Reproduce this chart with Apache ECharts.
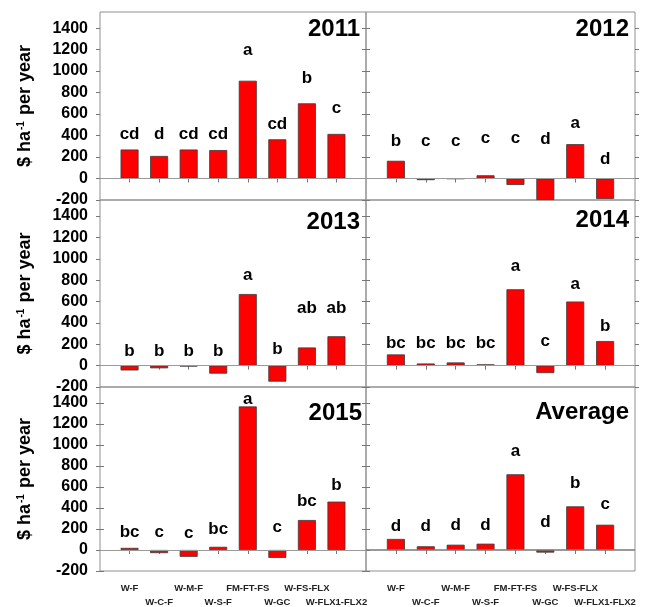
<!DOCTYPE html>
<html>
<head>
<meta charset="utf-8">
<script src="https://cdn.jsdelivr.net/npm/echarts@6/dist/echarts.min.js"></script>
<style>
html,body{margin:0;padding:0;background:#fff;}
#chart{width:656px;height:607px;}
</style>
</head>
<body>
<div id="chart"></div>
<script>
// ---- data ----
var categories = ['W-F','W-C-F','W-M-F','W-S-F','FM-FT-FS','W-GC','W-FS-FLX','W-FLX1-FLX2'];
var panelTitles = ['2011','2012','2013','2014','2015','Average'];
var yTicks = [-200,0,200,400,600,800,1000,1200,1400];

var v2011 = [270,210,270,265,910,365,700,415];
var v2012 = [165,-15,-3,30,-60,-200,320,-190];
var v2013 = [-45,-25,-8,-75,670,-150,170,275];
var v2014 = [105,20,30,12,715,-70,600,230];
var v2015 = [20,-30,-65,30,1365,-75,285,460];
var vAvg  = [105,35,50,60,720,-25,415,240];

var L2011 = ['cd','d','cd','cd','a','cd','b','c'];
var L2012 = ['b','c','c','c','c','d','a','d'];
var L2013 = ['b','b','b','b','a','b','ab','ab'];
var L2014 = ['bc','bc','bc','bc','a','c','a','b'];
var L2015 = ['bc','c','c','bc','a','c','bc','b'];
var LAvg  = ['d','d','d','d','a','d','b','c'];

// heights (data units) at which the letters sit (top of error bars, estimated)
var H2011 = [357,357,360,360,1146,451,883,601];
var H2012 = [297,297,297,322,322,312,460,125];
var H2013 = [84,84,84,84,796,99,487,487];
var H2014 = [161,161,161,161,879,173,709,316];
var H2015 = [117,117,108,140,1379,164,412,558];
var HAvg  = [170,170,186,183,890,207,579,378];

var values = [v2011,v2012,v2013,v2014,v2015,vAvg];
var letters = [L2011,L2012,L2013,L2014,L2015,LAvg];
var heights = [H2011,H2012,H2013,H2014,H2015,HAvg];

// ---- layout ----
var FONT = 'Liberation Sans, Arial, Helvetica, sans-serif';
var colLeft = [100, 366], colWidth = [266, 269];
var rowTop = [12, 200, 387], rowHeight = [188, 187, 187];
var titleRight = [296, 27, 296, 27, 294, 27];
var titleTop = [17, 17, 210, 208, 401, 400];
var xPos = [1,2,3,4,5,6,7,8];
var xPosOdd = [1,3,5,7], xPosEven = [2,4,6,8];

function catLabel(v) {
  var k = Math.round(v) - 1;
  if (k < 0 || k > 7) return '';
  return categories[k];
}
var xLabelStyle = {fontSize: 9.5, fontWeight: 'bold', fontFamily: FONT, color: '#222',
  showMinLabel: true, showMaxLabel: true, hideOverlap: false, formatter: catLabel};

var grids = [], xAxes = [], yAxes = [], series = [], titles = [];
for (var i = 0; i < 6; i++) {
  var col = i % 2, row = Math.floor(i / 2);
  grids.push({left: colLeft[col], top: rowTop[row], width: colWidth[col], height: rowHeight[row],
    show: true, borderColor: '#8f8f8f', borderWidth: 1, containLabel: false});
  xAxes.push({
    type: 'value', gridIndex: i, min: 0, max: 9, interval: 1, position: 'bottom',
    axisLine: {show: false}, splitLine: {show: false},
    axisTick: {show: true, inside: false, length: 4, customValues: xPos, lineStyle: {color: '#777'}},
    axisLabel: Object.assign({show: row === 2, customValues: xPosOdd, margin: 12}, xLabelStyle)
  });
  var yBase = {
    type: 'value', gridIndex: i, min: -200, max: 1550,
    axisLine: {show: false}, splitLine: {show: false},
    axisTick: {show: true, inside: false, length: 4, customValues: yTicks, lineStyle: {color: '#777'}}
  };
  var yLeft = Object.assign({}, yBase, {
    position: 'left',
    axisLabel: {show: col === 0, customValues: yTicks, margin: 12, fontSize: 16, fontWeight: 'bold',
      fontFamily: FONT, color: '#000', formatter: function (v) { return String(v); }}
  });
  if (col === 0) {
    yLeft.name = '{a|$ ha}{s|-1}{a| per year}';
    yLeft.nameLocation = 'middle';
    yLeft.nameGap = 66;
    yLeft.nameTextStyle = {
      rich: {
        a: {fontSize: 18, fontWeight: 'bold', fontFamily: FONT, color: '#000'},
        s: {fontSize: 10, fontWeight: 'bold', fontFamily: FONT, color: '#000', verticalAlign: 'top', padding: [0, 1, 0, 1]}
      }
    };
  }
  yAxes.push(yLeft);
  yAxes.push(Object.assign({}, yBase, {position: 'right', axisLabel: {show: false}}));

  series.push({
    type: 'bar', xAxisIndex: i, yAxisIndex: 2 * i, barWidth: 18,
    data: values[i].map(function (v, k) { return [k + 1, v]; }),
    itemStyle: {color: '#ff0000', borderColor: '#3a3a3a', borderWidth: 0.8},
    markLine: {
      silent: true, symbol: ['none', 'none'], label: {show: false},
      lineStyle: {color: i === 5 ? '#777' : '#9a9a9a', width: i === 5 ? 1.5 : 1, type: 'solid'},
      data: [{yAxis: 0}]
    },
    z: 2
  });
  (function (idx) {
    series.push({
      type: 'scatter', xAxisIndex: idx, yAxisIndex: 2 * idx, symbolSize: 1,
      itemStyle: {color: 'rgba(0,0,0,0)'}, silent: true,
      data: heights[idx].map(function (h, k) { return [k + 1, h]; }),
      label: {
        show: true, position: 'inside', verticalAlign: 'bottom', offset: [0, 3],
        fontSize: 17, fontWeight: 'bold', fontFamily: FONT, color: '#000',
        textBorderWidth: 0, textBorderColor: 'transparent', opacity: 1,
        formatter: function (p) { return letters[idx][p.dataIndex]; }
      },
      z: 3
    });
  })(i);
  titles.push({
    text: panelTitles[i], right: titleRight[i], top: titleTop[i], padding: 0,
    textStyle: {fontSize: 24, fontWeight: 'bold', fontFamily: FONT, color: '#000'}
  });
}
// second row of staggered category labels for the bottom panels
[4, 5].forEach(function (g) {
  xAxes.push({
    type: 'value', gridIndex: g, min: 0, max: 9, interval: 1, position: 'bottom', offset: 0,
    axisLine: {show: false}, splitLine: {show: false}, axisTick: {show: false},
    axisLabel: Object.assign({show: true, customValues: xPosEven, margin: 26}, xLabelStyle)
  });
});

var chart = echarts.init(document.getElementById('chart'), null, {renderer: 'canvas'});
chart.setOption({
  animation: false,
  backgroundColor: '#fff',
  title: titles,
  grid: grids,
  xAxis: xAxes,
  yAxis: yAxes,
  series: series
});
</script>
</body>
</html>
